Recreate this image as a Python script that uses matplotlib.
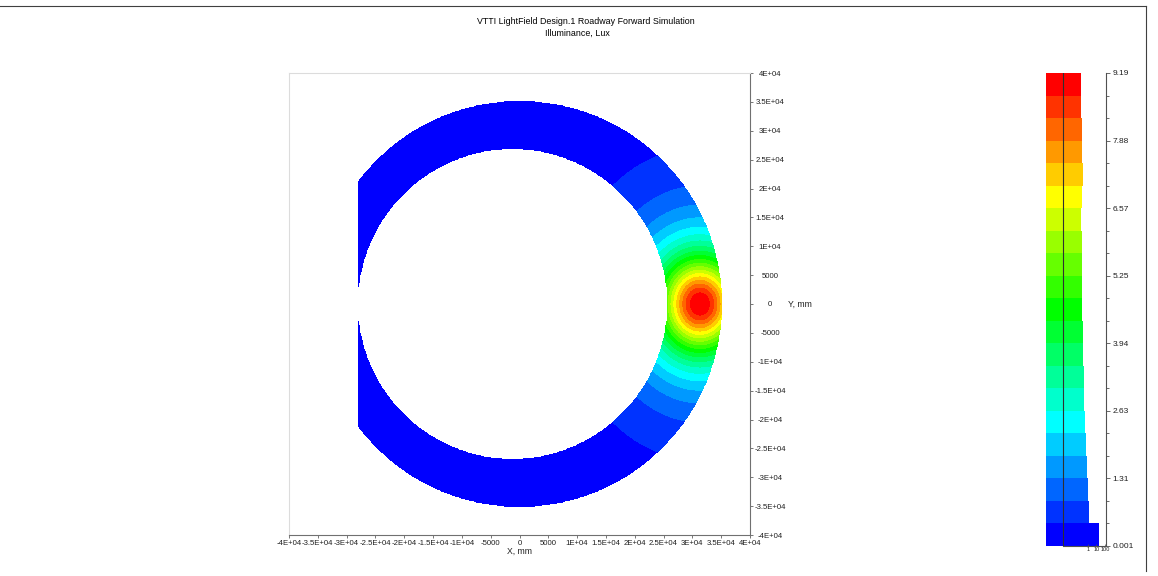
import matplotlib.pyplot as plt
import numpy as np
from matplotlib.colors import hsv_to_rgb
from matplotlib.lines import Line2D
from matplotlib.ticker import FixedLocator, FuncFormatter, NullFormatter

plt.rcParams["font.family"] = ["Liberation Sans", "DejaVu Sans"]

title_lines = ["VTTI LightField Design.1 Roadway Forward Simulation", "Illuminance, Lux"]

# colour scale: 21 equal bands from min to max illuminance
lux_min = 0.001
lux_max = 9.19
n_bands = 21
cbar_ticklabels = ["0.001", "1.31", "2.63", "3.94", "5.25", "6.57", "7.88", "9.19"]
# length of each legend bar (log axis), lowest band first
band_share = [18.8, 1.21, 0.92, 0.70, 0.53, 0.44, 0.36, 0.33, 0.28, 0.23, 0.18,
              0.18, 0.18, 0.18, 0.15, 0.18, 0.23, 0.18, 0.18, 0.15, 0.15]

# lit ring on the road plane, mm
ring_outer = 35100
hole_center_x = -1200
hole_radius = 26870
left_cutoff_x = -28000

# hot spot of the beam, mm and lux
spot_x = 31300
spot_y = 0
spot_lux = 9.19
spot_spread_x = 9000
spot_spread_y = 10500
falloff_power = 1.5

axis_ticks = np.arange(-40000, 40001, 5000)

W, H = 1158, 576
fig = plt.figure(figsize=(W / 100, H / 100), dpi=100)


def sci_label(v, pos=None):
    if abs(v) < 10000:
        return "%d" % v
    return "%gE+04" % (v / 10000)


levels = np.linspace(lux_min, lux_max, n_bands + 1)
band_colors = [hsv_to_rgb((h / 360.0, 1, 1)) for h in np.linspace(240, 0, n_bands)]

# illuminance on the road
xs = np.linspace(-40000, 40000, 801)
X, Y = np.meshgrid(xs, xs)
q = ((X - spot_x) / spot_spread_x) ** 2 + ((Y - spot_y) / spot_spread_y) ** 2
Z = spot_lux / (1 + q) ** falloff_power
Z = np.clip(Z, lux_min, lux_max - 1e-6)
outside = (np.hypot(X, Y) > ring_outer) | (np.hypot(X - hole_center_x, Y) < hole_radius) | (X < left_cutoff_x)
Z = np.ma.masked_where(outside, Z)

ax = fig.add_axes([289 / W, (H - 535) / H, 461 / W, 462 / H])
ax.contourf(X, Y, Z, levels=levels, colors=band_colors)
ax.set_xlim(-40000, 40000)
ax.set_ylim(-40000, 40000)
ax.set_xticks(axis_ticks)
ax.set_yticks(axis_ticks)
ax.xaxis.set_major_formatter(FuncFormatter(sci_label))
ax.yaxis.set_major_formatter(FuncFormatter(sci_label))
ax.yaxis.tick_right()
ax.tick_params(axis="both", direction="out", length=2, width=0.6, colors="#606060",
               labelcolor="#202020", labelsize=5.6)
ax.tick_params(axis="x", pad=1.5)
ax.tick_params(axis="y", pad=12.5)
for t in ax.get_yticklabels():
    t.set_ha("center")
for side in ["left", "top"]:
    ax.spines[side].set_color("#dcdcdc")
for side in ["right", "bottom"]:
    ax.spines[side].set_color("#707070")
for s in ax.spines.values():
    s.set_linewidth(0.8)
ax.set_xlabel("X, mm", fontsize=6.2, labelpad=0, color="#202020")
ax.text(1.083, 0.5, "Y, mm", transform=ax.transAxes, fontsize=6.2, va="center",
        ha="left", color="#202020")

fig.text(586 / W, 1 - 22 / H, title_lines[0], ha="center", va="center", fontsize=6.4)
fig.text(577 / W, 1 - 33 / H, title_lines[1], ha="center", va="center", fontsize=6.4)

# colour legend with the share of each band
cax = fig.add_axes([1046 / W, (H - 546) / H, 60 / W, 473 / H])
cax.set_xscale("log")
cax.barh(levels[:-1], band_share, height=np.diff(levels), left=1e-5, align="edge",
         color=band_colors)
cax.axvline(1e-3, color="#303030", lw=0.8)
cax.set_xlim(1e-5, 10 ** 2.14)
cax.set_ylim(lux_min, lux_max)
cax.yaxis.tick_right()
cax.yaxis.set_major_locator(FixedLocator(levels[::3]))
cax.yaxis.set_minor_locator(FixedLocator(levels))
cax.set_yticklabels(cbar_ticklabels)
cax.tick_params(axis="y", which="major", direction="out", length=3, width=0.6,
                colors="#505050", labelcolor="#202020", labelsize=6, pad=1.5)
cax.tick_params(axis="y", which="minor", direction="out", length=2, width=0.6, colors="#505050")
cax.xaxis.set_major_locator(FixedLocator([1, 10, 100]))
cax.xaxis.set_minor_formatter(NullFormatter())
cax.xaxis.set_major_formatter(FuncFormatter(lambda v, p: "%d" % v))
cax.tick_params(axis="x", which="both", direction="in", length=1.5, width=0.5,
                colors="#505050", labelcolor="#202020", labelsize=4, pad=0.5)
cax.spines["left"].set_visible(False)
cax.spines["top"].set_visible(False)
cax.spines["right"].set_color("#505050")
cax.spines["bottom"].set_color("#505050")
cax.spines["bottom"].set_bounds(1e-3, 10 ** 2.14)

# window frame around the chart
fig.add_artist(Line2D([0, 1146 / W], [1 - 6 / H, 1 - 6 / H], color="#404040", lw=0.8))
fig.add_artist(Line2D([1146 / W, 1146 / W], [1 - 6 / H, 1 - 571 / H], color="#404040", lw=0.8))

fig.savefig("out.png", dpi=100)
